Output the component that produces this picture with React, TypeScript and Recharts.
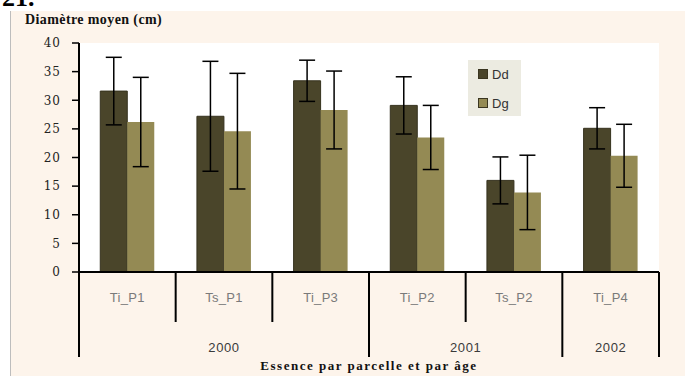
import React from 'react';
import {
  BarChart,
  Bar,
  XAxis,
  YAxis,
  CartesianGrid,
  Legend,
  ErrorBar,
} from 'recharts';

const categories = ['Ti_P1', 'Ts_P1', 'Ti_P3', 'Ti_P2', 'Ts_P2', 'Ti_P4'];
const years = ['2000', '2000', '2000', '2001', '2001', '2002'];
const dd = [31.6, 27.2, 33.4, 29.1, 16.0, 25.1];
const ddErr = [5.9, 9.6, 3.6, 5.0, 4.1, 3.6];
const dg = [26.2, 24.6, 28.3, 23.5, 13.9, 20.3];
const dgErr = [7.8, 10.1, 6.8, 5.6, 6.5, 5.5];
const yTicks = [0, 5, 10, 15, 20, 25, 30, 35, 40];

const data = categories.map((name, i) => ({
  name,
  year: years[i],
  Dd: dd[i],
  ddErr: ddErr[i],
  Dg: dg[i],
  dgErr: dgErr[i],
}));

const serif = '"Liberation Serif", "Times New Roman", serif';
const sans = '"Liberation Sans", Arial, sans-serif';

const CategoryTick = (props: any) => {
  const { x, y, payload } = props;
  const i: number = payload.index;
  const half: number = payload.offset || 48;
  const band = half * 2;
  const left = x - half;
  const groupStart = i === 0 || years[i] !== years[i - 1];
  let n = 1;
  while (i + n < years.length && years[i + n] === years[i]) n++;
  const isLast = i === categories.length - 1;
  return (
    <g>
      <line
        x1={left}
        x2={left}
        y1={y}
        y2={y + (groupStart ? 85 : 50)}
        stroke="#000"
        strokeWidth={2}
      />
      {isLast && (
        <line x1={x + half} x2={x + half} y1={y} y2={y + 85} stroke="#000" strokeWidth={2} />
      )}
      <text
        x={x}
        y={y + 30}
        textAnchor="middle"
        fontSize={13}
        letterSpacing={0.3}
        fill="#7a7a7a"
        fontFamily={sans}
      >
        {payload.value}
      </text>
      {groupStart && (
        <text
          x={left + (n * band) / 2}
          y={y + 80}
          textAnchor="middle"
          fontSize={13}
          letterSpacing={0.6}
          fill="#3a3a3a"
          fontFamily={sans}
        >
          {years[i]}
        </text>
      )}
    </g>
  );
};

const LegendBox = (props: any) => {
  const { payload } = props;
  return (
    <div
      style={{
        background: '#ecebe1',
        width: 53,
        height: 56,
        boxSizing: 'border-box',
        padding: '3px 0 0 10px',
        fontFamily: sans,
        fontSize: 13,
        color: '#333',
        textAlign: 'left',
      }}
    >
      {(payload || []).map((p: any) => (
        <div key={p.value} style={{ display: 'flex', alignItems: 'center', height: 22, marginBottom: 7 }}>
          <span
            style={{
              display: 'inline-block',
              width: 8,
              height: 8,
              background: p.color,
              border: '1px solid #3a3520',
              marginRight: 4,
            }}
          />
          {p.value}
        </div>
      ))}
    </div>
  );
};

export default function App() {
  return (
    <div
      style={{
        position: 'absolute',
        left: 0,
        top: 0,
        width: 685,
        height: 376,
        background: '#fff',
        overflow: 'hidden',
      }}
    >
      <div
        style={{
          position: 'absolute',
          left: 2,
          top: -17,
          fontFamily: serif,
          fontWeight: 'bold',
          fontSize: 26,
          color: '#000',
        }}
      >
        21.
      </div>
      <div
        style={{
          position: 'absolute',
          left: 10,
          top: 11,
          width: 675,
          height: 365,
          background: '#fdf4eb',
          borderLeft: '1px solid #bdbdbd',
        }}
      />
      <div
        style={{
          position: 'absolute',
          left: 25,
          top: 12,
          fontFamily: serif,
          fontWeight: 'bold',
          fontSize: 14,
          letterSpacing: 0.4,
          color: '#111',
        }}
      >
        Diamètre moyen (cm)
      </div>
      <div style={{ position: 'absolute', left: 0, top: 0 }}>
        <BarChart
          width={685}
          height={376}
          data={data}
          margin={{ top: 43, right: 26, left: 9, bottom: 0 }}
          barCategoryGap="22%"
          barGap={0}
        >
          <CartesianGrid horizontal={false} vertical={false} fill="#ffffff" />
          <XAxis
            dataKey="name"
            height={104}
            tickSize={0}
            tickMargin={0}
            tick={<CategoryTick />}
            interval={0}
            axisLine={{ stroke: '#000', strokeWidth: 2 }}
            label={{
              value: 'Essence par parcelle et par âge',
              position: 'insideBottom',
              offset: 6,
              style: { fontFamily: serif, fontWeight: 'bold', fontSize: 13, fill: '#111', letterSpacing: 1.5 },
            }}
          />
          <YAxis
            width={70}
            domain={[0, 40]}
            ticks={yTicks}
            interval={0}
            tickSize={7}
            tickMargin={11}
            tickLine={{ stroke: '#000', strokeWidth: 1.5 }}
            axisLine={{ stroke: '#000', strokeWidth: 2 }}
            tick={{ fontSize: 12, fill: '#222', fontFamily: '"DejaVu Serif", serif', letterSpacing: 1 }}
          />
          <Legend
            layout="horizontal"
            verticalAlign="middle"
            align="center"
            content={<LegendBox />}
            wrapperStyle={{ position: 'absolute', left: 468, top: 60, width: 53, height: 56 }}
          />
          <Bar dataKey="Dd" fill="#4a452a" stroke="#36321e" strokeWidth={1} isAnimationActive={false}>
            <ErrorBar dataKey="ddErr" width={8} stroke="#000" strokeWidth={1.5} direction="y" />
          </Bar>
          <Bar dataKey="Dg" fill="#948a54" isAnimationActive={false}>
            <ErrorBar dataKey="dgErr" width={8} stroke="#000" strokeWidth={1.5} direction="y" />
          </Bar>
        </BarChart>
      </div>
    </div>
  );
}
